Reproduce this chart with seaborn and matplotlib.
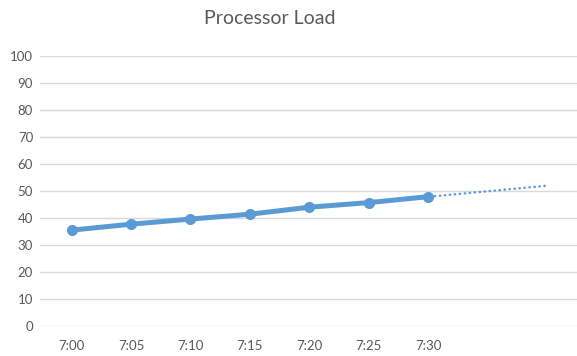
import numpy as np
import pandas as pd
import matplotlib
matplotlib.use("Agg")
import matplotlib.pyplot as plt
import seaborn as sns

times = ["7:00", "7:05", "7:10", "7:15", "7:20", "7:25", "7:30"]
load = [35.5, 37.7, 39.6, 41.4, 44.0, 45.7, 47.9]
y_ticks = [0, 10, 20, 30, 40, 50, 60, 70, 80, 90, 100]
forecast_periods = 2

sns.set_theme(style="white")
plt.rcParams["font.family"] = ["Lato", "DejaVu Sans"]

blue = "#5B9BD5"
grid = "#D9D9D9"
text = "#595959"

df = pd.DataFrame({"idx": np.arange(len(times)), "time": times, "load": load})

fig = plt.figure(figsize=(5.77, 3.56), dpi=100)
ax = fig.add_axes([0.0693, 0.0843, 0.9307, 0.7584])

# linear trendline with forward forecast
coef = np.polyfit(df["idx"], df["load"], 1)
tx = np.array([0, len(times) - 1 + forecast_periods])
trend = pd.DataFrame({"idx": tx, "load": np.polyval(coef, tx)})
sns.lineplot(data=trend, x="idx", y="load", ax=ax, color=blue, lw=1.8,
             linestyle=(0, (0.1, 1.9)), dash_capstyle="round", zorder=2)

sns.lineplot(data=df, x="idx", y="load", ax=ax, color=blue, lw=3.6,
             marker="o", markersize=8, markeredgewidth=0, zorder=3)

ax.set_xlim(-0.53, 8.5)
ax.set_ylim(0, 100)
ax.set_yticks(y_ticks)
ax.set_xticks(df["idx"])
ax.set_xticklabels(times)
ax.yaxis.grid(True, color=grid, lw=1.0)
ax.set_axisbelow(True)
for s in ax.spines.values():
    s.set_visible(False)
ax.tick_params(axis="both", length=0, labelsize=9.5, labelcolor=text)
ax.tick_params(axis="x", pad=10)
ax.tick_params(axis="y", pad=5)
ax.set_xlabel("")
ax.set_ylabel("")

fig.text(0.468, 0.948, "Processor Load", ha="center", va="center",
         fontsize=14, color=text)

fig.savefig("out.png", dpi=100)
